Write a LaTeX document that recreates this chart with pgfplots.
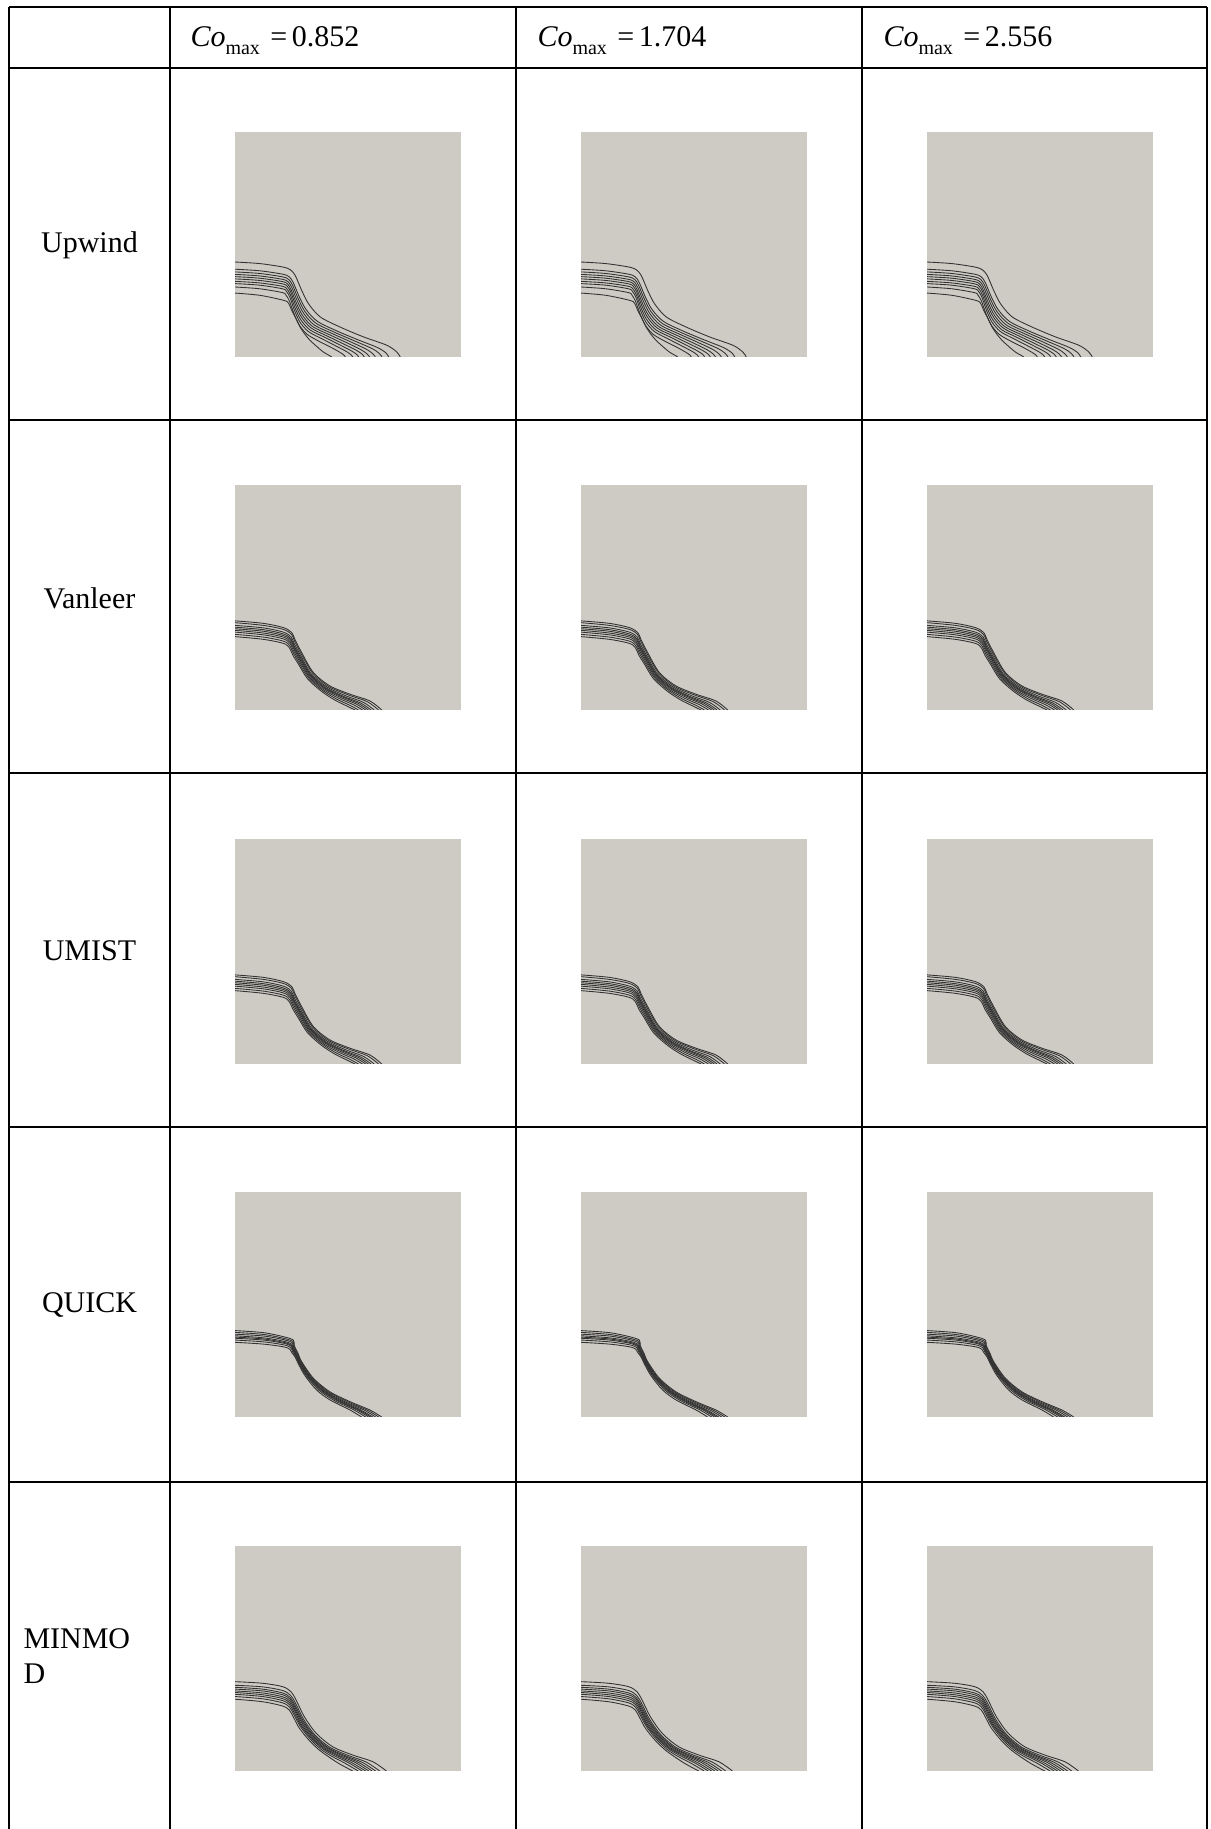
\documentclass[border=0pt]{standalone}
\usepackage{pgfplots}
\pgfplotsset{compat=1.18}
\usepackage{fontspec}
\setmainfont{Liberation Serif}
\definecolor{bg}{RGB}{206,203,197}
\definecolor{cl}{RGB}{50,50,50}
\pgfplotsset{
  cell/.style={width=90.4pt,height=90pt,scale only axis,xmin=0,xmax=1,ymin=0,ymax=1,
    axis line style={draw=none},ticks=none,axis background/.style={fill=bg},clip=true,anchor=south west},
  ct/.style={cl,line width=0.35pt,smooth,tension=0.5,mark=none}
}
\newcommand{\upwind}{%
\addplot[ct] coordinates {(0,0.422)(0.11,0.415)(0.21,0.400)(0.244,0.388)(0.266,0.363)(0.295,0.296)(0.325,0.237)(0.377,0.178)(0.465,0.133)(0.569,0.089)(0.672,0.052)(0.716,0.022)(0.731,0)};
\addplot[ct] coordinates {(0,0.390)(0.11,0.383)(0.21,0.368)(0.240,0.356)(0.258,0.330)(0.285,0.266)(0.315,0.210)(0.365,0.158)(0.45,0.116)(0.54,0.078)(0.63,0.042)(0.668,0.018)(0.680,0)};
\addplot[ct] coordinates {(0,0.378)(0.11,0.371)(0.21,0.356)(0.238,0.344)(0.255,0.318)(0.281,0.256)(0.31,0.201)(0.358,0.150)(0.44,0.110)(0.525,0.073)(0.605,0.038)(0.638,0.016)(0.650,0)};
\addplot[ct] coordinates {(0,0.367)(0.11,0.360)(0.21,0.345)(0.236,0.333)(0.252,0.307)(0.277,0.246)(0.305,0.192)(0.351,0.142)(0.43,0.104)(0.51,0.068)(0.58,0.035)(0.61,0.014)(0.621,0)};
\addplot[ct] coordinates {(0,0.357)(0.11,0.350)(0.21,0.335)(0.234,0.323)(0.249,0.297)(0.273,0.236)(0.30,0.183)(0.344,0.135)(0.42,0.098)(0.495,0.063)(0.558,0.032)(0.585,0.013)(0.595,0)};
\addplot[ct] coordinates {(0,0.347)(0.11,0.340)(0.21,0.325)(0.232,0.313)(0.247,0.287)(0.270,0.226)(0.296,0.174)(0.338,0.128)(0.41,0.092)(0.48,0.058)(0.538,0.029)(0.563,0.012)(0.572,0)};
\addplot[ct] coordinates {(0,0.336)(0.11,0.329)(0.21,0.314)(0.230,0.302)(0.245,0.276)(0.267,0.215)(0.292,0.164)(0.332,0.12)(0.40,0.086)(0.465,0.053)(0.517,0.026)(0.539,0.011)(0.547,0)};
\addplot[ct] coordinates {(0,0.326)(0.11,0.319)(0.21,0.303)(0.228,0.291)(0.243,0.265)(0.264,0.205)(0.288,0.154)(0.326,0.112)(0.39,0.078)(0.45,0.047)(0.495,0.023)(0.513,0.01)(0.521,0)};
\addplot[ct] coordinates {(0,0.311)(0.11,0.303)(0.21,0.286)(0.226,0.274)(0.241,0.248)(0.262,0.19)(0.285,0.141)(0.32,0.1)(0.375,0.068)(0.43,0.04)(0.467,0.019)(0.482,0.008)(0.488,0)};
\addplot[ct] coordinates {(0,0.284)(0.11,0.274)(0.214,0.252)(0.236,0.24)(0.251,0.207)(0.27,0.17)(0.288,0.133)(0.31,0.1)(0.332,0.074)(0.36,0.048)(0.391,0.022)(0.415,0.008)(0.428,0)};
}
\newcommand{\tvd}{%
\addplot[ct] coordinates {(0,0.396)(0.125,0.385)(0.214,0.366)(0.251,0.344)(0.265,0.314)(0.295,0.255)(0.347,0.166)(0.42,0.107)(0.509,0.07)(0.597,0.04)(0.649,0)};
\addplot[ct] coordinates {(0,0.388)(0.125,0.376)(0.214,0.358)(0.250,0.336)(0.264,0.305)(0.293,0.249)(0.344,0.163)(0.415,0.104)(0.501,0.067)(0.585,0.037)(0.635,0)};
\addplot[ct] coordinates {(0,0.376)(0.125,0.365)(0.214,0.346)(0.248,0.325)(0.263,0.293)(0.291,0.241)(0.339,0.159)(0.409,0.101)(0.490,0.063)(0.568,0.034)(0.616,0)};
\addplot[ct] coordinates {(0,0.368)(0.125,0.357)(0.214,0.338)(0.247,0.317)(0.262,0.284)(0.289,0.235)(0.336,0.156)(0.404,0.098)(0.481,0.06)(0.556,0.031)(0.602,0)};
\addplot[ct] coordinates {(0,0.361)(0.125,0.350)(0.214,0.331)(0.246,0.311)(0.262,0.277)(0.288,0.230)(0.334,0.153)(0.40,0.096)(0.475,0.058)(0.546,0.029)(0.590,0)};
\addplot[ct] coordinates {(0,0.354)(0.125,0.342)(0.214,0.324)(0.244,0.304)(0.261,0.270)(0.286,0.225)(0.331,0.150)(0.396,0.094)(0.468,0.055)(0.535,0.027)(0.578,0)};
\addplot[ct] coordinates {(0,0.346)(0.125,0.334)(0.214,0.316)(0.243,0.296)(0.260,0.261)(0.284,0.219)(0.328,0.147)(0.391,0.091)(0.459,0.052)(0.523,0.024)(0.564,0)};
\addplot[ct] coordinates {(0,0.336)(0.125,0.324)(0.214,0.306)(0.242,0.286)(0.259,0.251)(0.282,0.212)(0.324,0.144)(0.386,0.088)(0.45,0.048)(0.508,0.021)(0.546,0)};
\addplot[ct] coordinates {(0,0.326)(0.125,0.314)(0.214,0.296)(0.24,0.277)(0.258,0.24)(0.28,0.205)(0.32,0.14)(0.38,0.085)(0.44,0.045)(0.494,0.018)(0.531,0)};
}
\newcommand{\quick}{%
\addplot[ct] coordinates {(0,0.384)(0.125,0.375)(0.214,0.357)(0.258,0.342)(0.262,0.318)(0.28,0.28)(0.295,0.246)(0.347,0.172)(0.42,0.112)(0.509,0.068)(0.597,0.031)(0.649,0)};
\addplot[ct] coordinates {(0,0.376)(0.125,0.367)(0.214,0.350)(0.256,0.336)(0.261,0.313)(0.278,0.278)(0.293,0.244)(0.341,0.174)(0.411,0.113)(0.496,0.069)(0.584,0.031)(0.636,0)};
\addplot[ct] coordinates {(0,0.368)(0.125,0.360)(0.214,0.344)(0.254,0.330)(0.259,0.308)(0.276,0.276)(0.291,0.242)(0.336,0.175)(0.402,0.114)(0.482,0.07)(0.571,0.031)(0.622,0)};
\addplot[ct] coordinates {(0,0.361)(0.125,0.352)(0.214,0.337)(0.251,0.324)(0.258,0.303)(0.273,0.275)(0.290,0.239)(0.330,0.177)(0.393,0.116)(0.469,0.072)(0.557,0.031)(0.609,0)};
\addplot[ct] coordinates {(0,0.355)(0.125,0.347)(0.214,0.332)(0.250,0.319)(0.257,0.300)(0.272,0.273)(0.288,0.238)(0.327,0.178)(0.388,0.116)(0.46,0.072)(0.549,0.031)(0.6,0)};
\addplot[ct] coordinates {(0,0.350)(0.125,0.342)(0.214,0.328)(0.248,0.315)(0.256,0.297)(0.27,0.272)(0.287,0.236)(0.323,0.179)(0.382,0.117)(0.451,0.073)(0.54,0.031)(0.591,0)};
\addplot[ct] coordinates {(0,0.342)(0.125,0.334)(0.214,0.321)(0.246,0.309)(0.254,0.292)(0.268,0.27)(0.285,0.234)(0.317,0.181)(0.373,0.118)(0.438,0.074)(0.527,0.031)(0.578,0)};
\addplot[ct] coordinates {(0,0.332)(0.125,0.324)(0.214,0.312)(0.243,0.301)(0.252,0.285)(0.265,0.268)(0.283,0.231)(0.31,0.183)(0.361,0.12)(0.42,0.076)(0.509,0.031)(0.56,0)};
}
\newcommand{\minmod}{%
\addplot[ct] coordinates {(0,0.397)(0.121,0.39)(0.21,0.375)(0.248,0.352)(0.27,0.316)(0.307,0.241)(0.359,0.168)(0.432,0.108)(0.521,0.071)(0.61,0.041)(0.67,0)};
\addplot[ct] coordinates {(0,0.381)(0.121,0.374)(0.21,0.358)(0.246,0.336)(0.268,0.301)(0.303,0.231)(0.353,0.161)(0.42,0.105)(0.499,0.07)(0.58,0.04)(0.64,0)};
\addplot[ct] coordinates {(0,0.372)(0.121,0.364)(0.21,0.347)(0.245,0.326)(0.266,0.292)(0.3,0.225)(0.35,0.157)(0.413,0.103)(0.485,0.069)(0.562,0.039)(0.622,0)};
\addplot[ct] coordinates {(0,0.364)(0.121,0.356)(0.21,0.339)(0.245,0.318)(0.265,0.284)(0.298,0.22)(0.347,0.154)(0.407,0.102)(0.474,0.069)(0.547,0.038)(0.607,0)};
\addplot[ct] coordinates {(0,0.356)(0.121,0.347)(0.21,0.330)(0.244,0.31)(0.264,0.276)(0.296,0.214)(0.344,0.15)(0.401,0.1)(0.463,0.068)(0.532,0.038)(0.592,0)};
\addplot[ct] coordinates {(0,0.349)(0.121,0.339)(0.21,0.322)(0.243,0.302)(0.263,0.269)(0.293,0.209)(0.341,0.147)(0.395,0.099)(0.452,0.068)(0.517,0.037)(0.578,0)};
\addplot[ct] coordinates {(0,0.341)(0.121,0.331)(0.21,0.313)(0.242,0.294)(0.261,0.261)(0.291,0.204)(0.338,0.144)(0.39,0.097)(0.441,0.067)(0.502,0.037)(0.563,0)};
\addplot[ct] coordinates {(0,0.331)(0.121,0.321)(0.21,0.303)(0.241,0.284)(0.26,0.252)(0.289,0.198)(0.335,0.139)(0.382,0.095)(0.427,0.066)(0.484,0.036)(0.545,0)};
\addplot[ct] coordinates {(0,0.319)(0.121,0.308)(0.21,0.289)(0.24,0.271)(0.258,0.24)(0.285,0.19)(0.33,0.134)(0.373,0.093)(0.41,0.066)(0.46,0.033)(0.521,0)};
}
\newcommand{\co}[1]{\textit{Co}\raisebox{-0.55ex}{\fontsize{8}{8}\selectfont max}\hspace{0.35em}=\hspace{0.15em}#1}
\begin{document}
\begin{tikzpicture}[x=0.4pt,y=0.4pt,every node/.style={font=\fontsize{12}{14}\selectfont,inner sep=0pt}]
\path[use as bounding box] (0,0) rectangle (1211,1829);
% table rules
\draw[line width=0.8pt] (9,1822) -- (1207,1822);
\draw[line width=0.8pt] (9,1761) -- (1207,1761);
\draw[line width=0.8pt] (9,1409) -- (184,1409);
\draw[line width=0.8pt] (9,1056) -- (184,1056);
\draw[line width=0.8pt] (9,702) -- (184,702);
\draw[line width=0.8pt] (9,347) -- (184,347);
\draw[line width=0.55pt] (184,1409) -- (1207,1409);
\draw[line width=0.55pt] (184,1056) -- (1207,1056);
\draw[line width=0.55pt] (184,702) -- (1207,702);
\draw[line width=0.55pt] (184,347) -- (1207,347);
\draw[line width=0.8pt] (9,0) -- (9,1822);
\draw[line width=0.8pt] (170,0) -- (170,1822);
\draw[line width=0.8pt] (516,0) -- (516,1822);
\draw[line width=0.8pt] (862,0) -- (862,1822);
\draw[line width=0.8pt] (1207,0) -- (1207,1822);
% header
\node[anchor=base west] at (190,1782) {\co{0.852}};
\node[anchor=base west] at (537,1782) {\co{1.704}};
\node[anchor=base west] at (883,1782) {\co{2.556}};
% row labels
\node at (89.5,1584) {Upwind};
\node at (89.5,1231) {Vanleer};
\node at (89.5,878) {UMIST};
\node at (89.5,524) {QUICK};
\node[anchor=west,align=left] at (23,173) {MINMO\\D};
% cells: column 1
\begin{axis}[cell,at={(94pt,588.8pt)}] \upwind \end{axis}
\begin{axis}[cell,at={(94pt,447.6pt)}] \tvd \end{axis}
\begin{axis}[cell,at={(94pt,306pt)}] \tvd \end{axis}
\begin{axis}[cell,at={(94pt,164.8pt)}] \quick \end{axis}
\begin{axis}[cell,at={(94pt,23.2pt)}] \minmod \end{axis}
% column 2
\begin{axis}[cell,at={(232.4pt,588.8pt)}] \upwind \end{axis}
\begin{axis}[cell,at={(232.4pt,447.6pt)}] \tvd \end{axis}
\begin{axis}[cell,at={(232.4pt,306pt)}] \tvd \end{axis}
\begin{axis}[cell,at={(232.4pt,164.8pt)}] \quick \end{axis}
\begin{axis}[cell,at={(232.4pt,23.2pt)}] \minmod \end{axis}
% column 3
\begin{axis}[cell,at={(370.8pt,588.8pt)}] \upwind \end{axis}
\begin{axis}[cell,at={(370.8pt,447.6pt)}] \tvd \end{axis}
\begin{axis}[cell,at={(370.8pt,306pt)}] \tvd \end{axis}
\begin{axis}[cell,at={(370.8pt,164.8pt)}] \quick \end{axis}
\begin{axis}[cell,at={(370.8pt,23.2pt)}] \minmod \end{axis}
\end{tikzpicture}
\end{document}
